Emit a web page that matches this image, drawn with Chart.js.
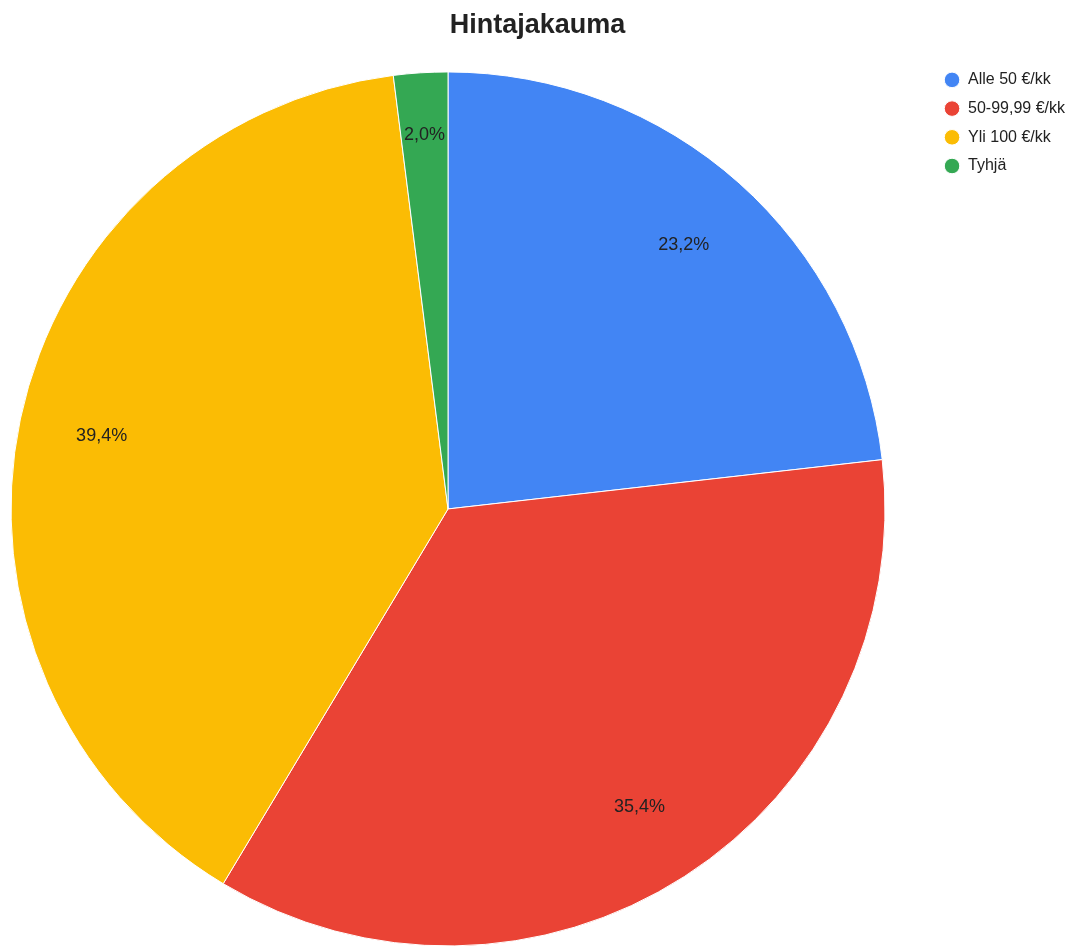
<!DOCTYPE html>
<html lang="fi">
<head>
<meta charset="utf-8">
<title>Hintajakauma</title>
<script src="https://cdn.jsdelivr.net/npm/chart.js@4/dist/chart.umd.min.js"></script>
<style>
  html, body { margin: 0; padding: 0; background: #fff; }
  #wrap { width: 1075px; height: 947px; }
</style>
</head>
<body>
<div id="wrap"><canvas id="chart" width="1075" height="947"></canvas></div>
<script>
// Price brackets and their share of listings (%)
const categories = ['Alle 50 €/kk', '50-99,99 €/kk', 'Yli 100 €/kk', 'Tyhjä'];
const shares = [23.2, 35.4, 39.4, 2.0];
const sliceColors = ['#4285F4', '#EA4335', '#FBBC04', '#34A853'];

const FONT = '"Liberation Sans", Arial, Helvetica, sans-serif';
const formatShare = v => v.toFixed(1).replace('.', ',') + '%';

// Percentage text inside each slice; narrow slices push the text outward until it fits
const sliceLabels = {
  id: 'sliceLabels',
  afterDatasetsDraw(chart) {
    const { ctx } = chart;
    const meta = chart.getDatasetMeta(0);
    ctx.save();
    ctx.font = '18px ' + FONT;
    ctx.fillStyle = '#222';
    ctx.textAlign = 'center';
    ctx.textBaseline = 'middle';
    meta.data.forEach((arc, i) => {
      const { x, y, startAngle, endAngle, outerRadius } =
        arc.getProps(['x', 'y', 'startAngle', 'endAngle', 'outerRadius'], true);
      const text = formatShare(chart.data.datasets[0].data[i]);
      const sweep = endAngle - startAngle;
      const mid = (startAngle + endAngle) / 2;
      const w = ctx.measureText(text).width;
      const r = Math.max(outerRadius * 0.81, (w + 6) / sweep);
      ctx.fillText(text, x + Math.cos(mid) * r, y + Math.sin(mid) * r);
    });
    ctx.restore();
  }
};

new Chart(document.getElementById('chart'), {
  type: 'pie',
  data: {
    labels: categories,
    datasets: [{
      data: shares,
      backgroundColor: sliceColors,
      borderColor: '#ffffff',
      borderWidth: 1
    }]
  },
  plugins: [sliceLabels],
  options: {
    responsive: false,
    animation: false,
    radius: 437,
    layout: { padding: 0 },
    plugins: {
      tooltip: { enabled: false },
      title: {
        display: true,
        text: 'Hintajakauma',
        color: '#222',
        font: { family: FONT, size: 27, weight: 'bold', lineHeight: 1.2 },
        padding: { top: 9, bottom: 29.5 }
      },
      // empty box that keeps a gap between the pie and the legend
      subtitle: {
        display: true,
        text: '',
        position: 'right',
        fullSize: false,
        weight: 500,
        padding: 0,
        font: { size: 12, lineHeight: '47px' }
      },
      legend: {
        position: 'right',
        align: 'start',
        fullSize: false,
        labels: {
          usePointStyle: true,
          pointStyle: 'circle',
          boxWidth: 16,
          boxHeight: 11,
          padding: 1,
          color: '#222',
          font: { family: FONT, size: 16, lineHeight: '27.7px' },
          // one-line arrays so the row pitch follows the label line height
          generateLabels(chart) {
            const base = Chart.overrides.doughnut.plugins.legend.labels.generateLabels(chart);
            return base.map(item => Object.assign({}, item, { text: [item.text] }));
          }
        }
      }
    }
  }
});
</script>
</body>
</html>
